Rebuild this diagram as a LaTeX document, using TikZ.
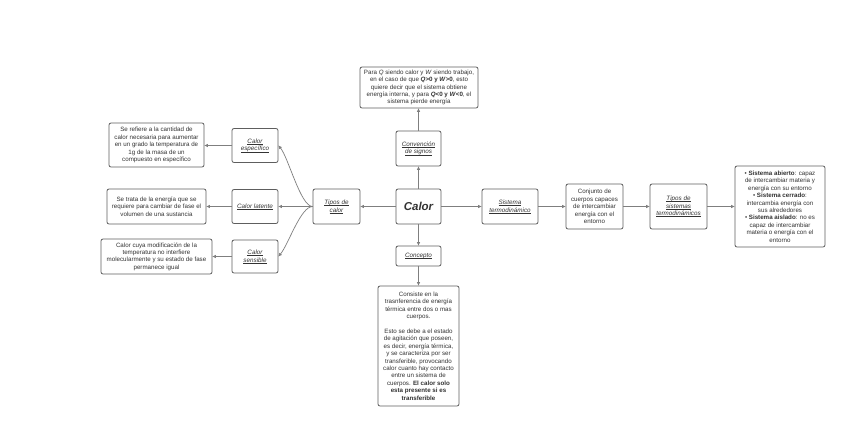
\documentclass[tikz,border=0pt]{standalone}
\usepackage{fontspec}
\setmainfont{Liberation Sans}
\usetikzlibrary{arrows.meta}
\definecolor{bordc}{HTML}{5E5E5E}
\definecolor{linec}{HTML}{7F7F7F}
\definecolor{txtc}{HTML}{333333}
\newcommand{\uln}[1]{\leavevmode\setbox0=\hbox{#1}\rlap{\rule[-1pt]{\wd0}{0.4pt}}\box0}
\begin{document}
\begin{tikzpicture}[x=1pt,y=-1pt,
  box/.style={draw=bordc, line width=0.8pt, rounded corners=2pt, fill=white, inner sep=0pt,
    align=center, text=txtc, font=\fontsize{6.2}{7.4}\selectfont},
  lab/.style={box, font=\itshape\fontsize{6.3}{7.6}\selectfont},
  arr/.style={draw=linec, line width=0.7pt, -{Triangle[length=3.5pt,width=3pt]}}]
\path[use as bounding box, fill=white] (0,0) rectangle (848,424);

% centre column
\node[box, minimum width=118pt, minimum height=41pt] (top) at (419,87.5)
  {Para \textit{Q} siendo calor y \textit{W} siendo trabajo,\\
   en el caso de que \textbf{\textit{Q}>0 y \textit{W}>0}, esto\\
   quiere decir que el sistema obtiene\\
   energía interna, y para \textbf{\textit{Q}<0 y \textit{W}<0}, el\\
   sistema pierde energía};
\node[lab, minimum width=45pt, minimum height=35pt] (conv) at (418.5,148.5)
  {\uln{Convención}\\\uln{de signos}};
\node[box, minimum width=45pt, minimum height=35pt, font=\bfseries\itshape\fontsize{11.5}{13}\selectfont] (calor) at (418.5,206.5) {Calor};
\node[lab, minimum width=45pt, minimum height=20pt] (conc) at (418.5,256) {\uln{Concepto}};
\node[box, minimum width=81pt, minimum height=120pt] (bot) at (418.5,346)
  {Consiste en la\\
   trasnferencia de energía\\
   térmica entre dos o mas\\
   cuerpos.\\[7.4pt]
   Esto se debe a el estado\\
   de agitación que poseen,\\
   es decir, energía térmica,\\
   y se caracteriza por ser\\
   transferible, provocando\\
   calor cuanto hay contacto\\
   entre un sistema de\\
   cuerpos. \textbf{El calor solo}\\
   \textbf{esta presente si es}\\
   \textbf{transferible}};

% left side
\node[lab, minimum width=47pt, minimum height=35pt] (tc) at (336.5,206.5)
  {\uln{Tipos de}\\\uln{calor}};
\node[lab, minimum width=46pt, minimum height=34pt] (ce) at (255,145.5)
  {\uln{Calor}\\\uln{específico}};
\node[lab, minimum width=46pt, minimum height=34pt] (cl) at (255,206.5)
  {\uln{Calor latente}};
\node[lab, minimum width=46pt, minimum height=33pt] (cs) at (255,256.5)
  {\uln{Calor}\\\uln{sensible}};
\node[box, minimum width=95pt, minimum height=44pt] (lb1) at (156.5,145)
  {Se refiere a la cantidad de\\
   calor necesaria para aumentar\\
   en un grado la temperatura de\\
   1g de la masa de un\\
   compuesto en específico};
\node[box, minimum width=99pt, minimum height=35pt] (lb2) at (156.5,206.5)
  {Se trata de la energía que se\\
   requiere para cambiar de fase el\\
   volumen de una sustancia};
\node[box, minimum width=111pt, minimum height=35pt] (lb3) at (156.5,256.5)
  {Calor cuya modificación de la\\
   temperatura no interfiere\\
   molecularmente y su estado de fase\\
   permanece igual};

% right side
\node[lab, minimum width=56pt, minimum height=35pt] (st) at (510,206.5)
  {\uln{Sistema}\\\uln{termodinámico}};
\node[box, minimum width=57pt, minimum height=45pt] (conj) at (594.5,206.5)
  {Conjunto de\\cuerpos capaces\\de intercambiar\\energía con el\\entorno};
\node[lab, minimum width=57pt, minimum height=45pt] (ts) at (678.5,206.5)
  {\uln{Tipos de}\\\uln{sistemas}\\\uln{termodinámicos}};
\node[box, minimum width=90pt, minimum height=81pt] (rb) at (780,206.5)
  {• \textbf{Sistema abierto}: capaz\\
   de intercambiar materia y\\
   energía con su entorno\\
   • \textbf{Sistema cerrado}:\\
   intercambia energía con\\
   sus alrededores\\
   • \textbf{Sistema aislado}: no es\\
   capaz de intercambiar\\
   materia o energía con el\\
   entorno};

% connectors
\draw[arr] (calor.north) -- (conv.south);
\draw[arr] (conv.north) -- (conv.north |- top.south);
\draw[arr] (calor.south) -- (conc.north);
\draw[arr] (conc.south) -- (bot.north);
\draw[arr] (calor.west) -- (tc.east);
\draw[arr] (tc.west) -- (cl.east);
\draw[arr] (tc.west) .. controls +(-12,0) and +(10,12) .. (ce.east);
\draw[arr] (tc.west) .. controls +(-12,0) and +(10,-12) .. (cs.east);
\draw[arr] (ce.west) -- (lb1.east |- ce.west);
\draw[arr] (cl.west) -- (lb2.east);
\draw[arr] (cs.west) -- (lb3.east |- cs.west);
\draw[arr] (calor.east) -- (st.west);
\draw[arr] (st.east) -- (conj.west);
\draw[arr] (conj.east) -- (ts.west);
\draw[arr] (ts.east) -- (rb.west);
\end{tikzpicture}
\end{document}
